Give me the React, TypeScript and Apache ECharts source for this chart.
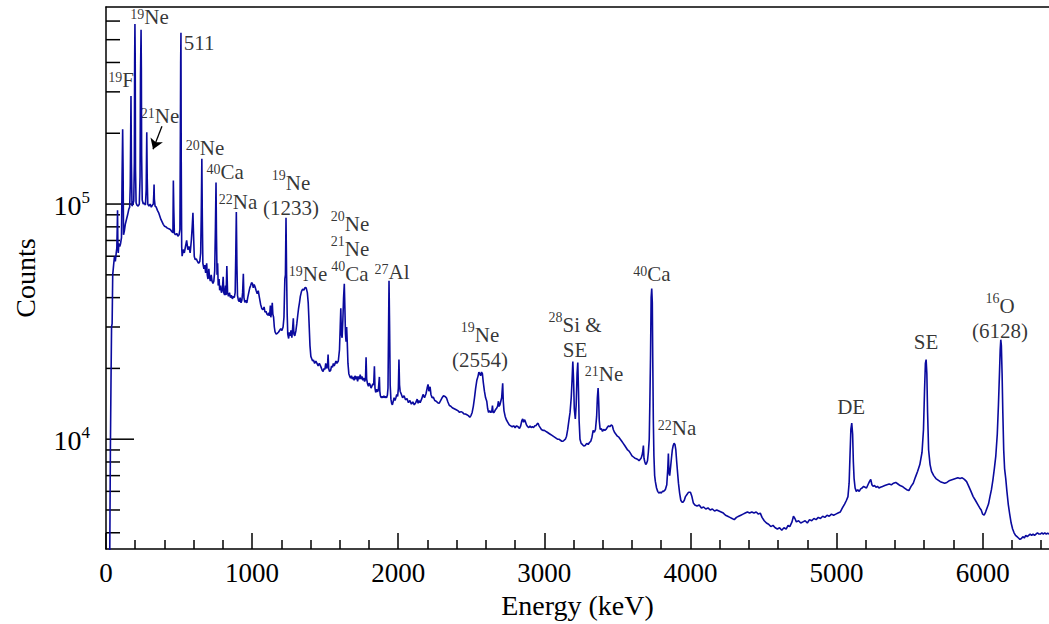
import React, { useEffect, useRef } from "react";
import * as echarts from "echarts";

// Gamma-ray spectrum: [energy (keV), counts]
const spectrumA: [number, number][] = [
  [20, 3000], [26, 3400], [30, 9000], [34, 17000], [38, 30000], [42, 31000], [46, 50000], [52, 55000], [58, 60000], [64, 57000],
  [70, 62000], [74, 65000], [77, 80000], [79, 94000], [81, 70000], [84, 62000], [88, 68000], [94, 66000], [100, 68000], [106, 72000],
  [110, 130000], [114, 208000], [117, 140000], [120, 74000], [126, 77000], [132, 82000], [140, 86000], [148, 90000], [156, 95000], [162, 97000],
  [166, 120000], [169, 200000], [171, 288000], [174, 150000], [178, 98000], [184, 100000], [190, 103000], [194, 150000], [196, 400000], [198, 583000],
  [200, 420000], [202, 140000], [206, 101000], [212, 99000], [220, 98000], [228, 100000], [233, 130000], [236, 350000], [240, 551000], [242, 380000],
  [244, 160000], [248, 104000], [255, 100000], [262, 101000], [270, 99000], [275, 115000], [279, 202000], [282, 130000], [286, 100000], [294, 98000],
  [302, 100000], [310, 97000], [318, 99000], [324, 100000], [327, 110000], [329, 121000], [331, 105000], [336, 98000], [344, 97000], [352, 94000],
  [360, 92000], [368, 89000], [376, 86000], [384, 84000], [392, 82000], [400, 80500], [410, 80000], [420, 79000], [430, 78500], [440, 78000],
  [450, 76500], [458, 75500], [461, 126000], [464, 95000], [468, 75000], [476, 74000], [484, 75000], [492, 73000], [500, 74000], [506, 78000],
  [509, 200000], [511, 400000], [513, 535000], [515, 150000], [518, 66000], [521, 60000], [528, 64000], [536, 62000], [544, 66000], [552, 70000],
  [560, 64000], [568, 66000], [576, 62000], [584, 70000], [590, 80000], [595, 91700], [599, 75000], [604, 60000], [610, 58000], [618, 58500],
  [626, 57000], [634, 56000], [642, 57000], [648, 62000], [652, 90000], [656, 155800], [659, 90000], [663, 56000], [670, 53000], [676, 55000],
  [682, 51000], [689, 56000], [693, 50000], [698, 48000], [704, 53000], [708, 49000], [714, 47000], [720, 50000], [726, 47000], [732, 46000],
  [738, 47000], [744, 52000], [749, 80000], [753, 123600], [756, 75000], [760, 50000], [764, 56000], [768, 45000], [774, 48000], [778, 43000],
  [784, 45000], [790, 42000], [796, 43000], [802, 49000], [806, 42000], [812, 41000], [818, 45000], [822, 41000], [827, 54500], [832, 42000],
  [838, 40500], [845, 42000], [852, 40000], [858, 41000], [865, 39500], [872, 40500], [878, 40000], [884, 42000], [888, 60000], [892, 92600],
  [896, 55000], [900, 40800], [906, 39000], [912, 38500], [918, 40000], [924, 38000], [930, 39000], [935, 42000], [940, 50500], [944, 40000],
  [950, 38200], [957, 39000], [964, 38000], [970, 40000], [977, 42000], [984, 44000], [990, 45000], [996, 46300],
];

const spectrumB: [number, number][] = [
  [1002, 46000], [1008, 44000], [1014, 45500], [1020, 44500], [1028, 42800], [1035, 41500], [1042, 42800], [1050, 40000], [1058, 37500], [1066, 36000],
  [1074, 35500], [1082, 36500], [1088, 34700], [1095, 35000], [1102, 34000], [1109, 33700], [1115, 34500], [1120, 33500], [1125, 37000], [1128, 33000],
  [1134, 35000], [1138, 38000], [1142, 34000], [1147, 33000], [1152, 30000], [1157, 28600], [1165, 28000], [1172, 28200], [1180, 28500], [1188, 29000],
  [1196, 29500], [1204, 29000], [1212, 30000], [1218, 33000], [1224, 48000], [1228, 50000], [1232, 87400], [1236, 50000], [1240, 34000], [1244, 28000],
  [1250, 26800], [1255, 28500], [1260, 27500], [1266, 29000], [1272, 27000], [1278, 30000], [1282, 32700], [1286, 28000], [1292, 27500], [1300, 29000],
  [1306, 31000], [1312, 33500], [1318, 36000], [1324, 38000], [1330, 40500], [1338, 42500], [1346, 43500], [1354, 43000], [1362, 44100], [1370, 44000],
  [1378, 42000], [1384, 38000], [1390, 31000], [1396, 25000], [1402, 22500], [1408, 22000], [1414, 21500], [1420, 21700], [1428, 21000], [1436, 21500],
  [1444, 21000], [1452, 20500], [1460, 21000], [1468, 20500], [1475, 20000], [1480, 19600], [1486, 19400], [1492, 20000], [1498, 19800], [1504, 21000],
  [1510, 20000], [1516, 20500], [1520, 22900], [1524, 20000], [1530, 19400], [1537, 19600], [1544, 20500], [1550, 20200], [1556, 21000], [1562, 20500],
  [1568, 21000], [1574, 21500], [1580, 21000], [1590, 21500], [1598, 24000], [1603, 30000], [1607, 36000], [1611, 28000], [1616, 27000], [1621, 32000],
  [1626, 40000], [1631, 45800], [1635, 36000], [1639, 28000], [1643, 26000], [1647, 30000], [1651, 26000], [1656, 21000], [1662, 19000], [1668, 18500],
  [1674, 18200], [1680, 18600], [1686, 18000], [1692, 18400], [1698, 17800], [1704, 18600], [1710, 18000], [1716, 18500], [1722, 17600], [1728, 18500],
  [1734, 18000], [1740, 18800], [1746, 18000], [1752, 18500], [1758, 17800], [1764, 18200], [1770, 17600], [1776, 18000], [1780, 22300], [1784, 18000],
  [1790, 17200], [1796, 16800], [1802, 17300], [1808, 17000], [1814, 16500], [1820, 16800], [1826, 17200], [1832, 17000], [1837, 20400], [1841, 16500],
  [1846, 15800], [1852, 16300], [1858, 15900], [1864, 16200], [1871, 18400], [1874, 16000], [1878, 15300], [1884, 15000], [1890, 15200], [1896, 15000],
  [1902, 15300], [1908, 15000], [1914, 15200], [1920, 15000], [1926, 15400], [1930, 16500], [1934, 30000], [1937, 47200], [1941, 30000], [1945, 17000],
  [1950, 14800], [1955, 14200], [1960, 14000], [1966, 14500], [1972, 15000], [1978, 14600], [1984, 15000], [1990, 15500], [1996, 15200], [2001, 16500],
  [2005, 21800], [2009, 17000], [2013, 16000], [2020, 15600], [2030, 15000], [2040, 15300], [2050, 14700], [2060, 14900], [2070, 14300], [2080, 14600],
  [2090, 14100], [2100, 14400], [2110, 14000], [2120, 14300], [2130, 14800], [2136, 14200], [2142, 14600], [2150, 14300], [2160, 14800], [2170, 15500],
  [2180, 15000], [2190, 15600], [2198, 16500], [2204, 17100], [2210, 16000], [2218, 16700], [2224, 15500], [2232, 15000], [2240, 15100], [2250, 14600],
  [2260, 14500], [2270, 14300], [2280, 14200], [2290, 14600], [2300, 15000], [2310, 15300], [2320, 15200], [2330, 15000], [2340, 14400], [2350, 13900],
  [2360, 13800], [2370, 13600], [2380, 13500], [2390, 13400], [2400, 13300], [2410, 13200], [2420, 13000], [2430, 13100], [2440, 13000], [2450, 12800],
  [2460, 12800], [2470, 12700], [2480, 12600], [2490, 12400],
];

const spectrumC: [number, number][] = [
  [2498, 12600], [2506, 13000], [2514, 13800], [2522, 15000], [2530, 16500], [2538, 17800], [2546, 18500], [2552, 19300], [2558, 19000], [2564, 18600],
  [2570, 19300], [2576, 19000], [2582, 17500], [2590, 16000], [2598, 15000], [2606, 14500], [2612, 13500], [2618, 13000], [2626, 13200], [2634, 13000],
  [2640, 13100], [2645, 13900], [2649, 13000], [2656, 13000], [2664, 13300], [2672, 13500], [2680, 13800], [2686, 14500], [2690, 13800], [2696, 14000],
  [2702, 14500], [2708, 15000], [2715, 17300], [2719, 14500], [2724, 13200], [2732, 12500], [2740, 12100], [2750, 11800], [2760, 11500], [2770, 11400],
  [2780, 11300], [2790, 11400], [2800, 11200], [2810, 11400], [2820, 11300], [2830, 11100], [2838, 11400], [2846, 12000], [2852, 12200], [2858, 11800],
  [2864, 12100], [2870, 11900], [2878, 11500], [2886, 11300], [2894, 11200], [2902, 11400], [2910, 11200], [2918, 11300], [2926, 11200], [2934, 11400],
  [2942, 11400], [2950, 11600], [2957, 11700], [2964, 11400], [2972, 11200], [2980, 11000], [2990, 10900], [3000, 10900], [3010, 10800], [3020, 10700],
  [3030, 10600], [3040, 10500], [3050, 10400], [3060, 10300], [3070, 10200], [3080, 10100], [3090, 10000], [3100, 10000], [3110, 9900], [3120, 9800],
  [3128, 9800], [3136, 9900], [3144, 10000], [3152, 10300], [3160, 11000], [3168, 12000], [3176, 13000], [3184, 15000], [3190, 18000], [3195, 21400],
  [3200, 18000], [3205, 13500], [3212, 12200], [3218, 14000], [3224, 19000], [3229, 21200], [3234, 16000], [3238, 12000], [3244, 10000], [3252, 9600],
  [3260, 9500], [3270, 9350], [3280, 9400], [3290, 9600], [3300, 9500], [3310, 9700], [3318, 9800], [3326, 10200], [3334, 10900], [3342, 10700],
  [3350, 11000], [3358, 12500], [3363, 15000], [3368, 16500], [3372, 14500], [3376, 12000], [3382, 11000], [3390, 11100], [3398, 10800], [3406, 11000],
  [3414, 10900], [3422, 11000], [3430, 11200], [3440, 11400], [3448, 11300], [3458, 11500], [3466, 11400], [3472, 11000], [3480, 10700], [3490, 10500],
  [3500, 10300], [3510, 10200], [3520, 10000], [3530, 9800], [3540, 9600], [3550, 9400], [3560, 9200], [3570, 9000], [3580, 8900], [3590, 8700],
  [3600, 8500], [3610, 8400], [3620, 8300], [3630, 8250], [3640, 8200], [3648, 8100], [3655, 8200], [3662, 8300], [3668, 8500], [3673, 8800],
  [3678, 9400], [3682, 8300], [3688, 8000], [3694, 7800], [3700, 7900], [3706, 8100], [3712, 8800], [3718, 10000], [3722, 14000], [3727, 22900],
  [3731, 40000], [3735, 43700], [3739, 38000], [3742, 22000], [3746, 12000], [3750, 8500], [3755, 7000], [3760, 6600], [3768, 6200], [3776, 6000],
  [3784, 5900], [3792, 5950], [3800, 5900], [3808, 6000], [3816, 6000], [3828, 6100], [3838, 6400], [3845, 7500], [3849, 8700], [3853, 7200],
  [3858, 7000], [3864, 7600], [3870, 8300], [3876, 9000], [3882, 9400], [3888, 9600], [3894, 9500], [3900, 9000], [3906, 8000], [3912, 7200],
  [3918, 6500], [3926, 5900], [3934, 5500], [3942, 5400], [3950, 5400], [3958, 5500], [3966, 5700], [3975, 5800], [3982, 5900], [3990, 5950],
];

const spectrumD: [number, number][] = [
  [4000, 5950], [4010, 5700], [4020, 5350], [4030, 5250], [4045, 5200], [4060, 5250], [4075, 5100], [4090, 5150], [4105, 5050], [4120, 5100],
  [4135, 5000], [4150, 5050], [4165, 4950], [4180, 5000], [4195, 4950], [4210, 4900], [4225, 4850], [4240, 4750], [4255, 4700], [4270, 4650],
  [4285, 4600], [4300, 4550], [4315, 4650], [4330, 4700], [4345, 4750], [4360, 4800], [4375, 4850], [4390, 4900], [4405, 4850], [4420, 4900],
  [4435, 4850], [4450, 4900], [4465, 4800], [4478, 4850], [4490, 4650], [4505, 4500], [4520, 4400], [4535, 4350], [4550, 4250], [4565, 4300],
  [4580, 4200], [4595, 4150], [4610, 4200], [4625, 4100], [4640, 4200], [4655, 4150], [4668, 4300], [4680, 4250], [4695, 4450], [4705, 4700],
  [4715, 4600], [4725, 4450], [4740, 4500], [4755, 4400], [4770, 4450], [4785, 4500], [4800, 4400], [4815, 4550], [4830, 4500], [4845, 4600],
  [4860, 4550], [4875, 4650], [4890, 4600], [4905, 4700], [4920, 4650], [4935, 4750], [4950, 4700], [4965, 4800], [4980, 4750], [4995, 4800],
  [5010, 4850], [5025, 4900], [5040, 5100], [5055, 5300], [5068, 5500], [5078, 5700], [5086, 6500], [5092, 8500], [5098, 11000], [5104, 11700],
  [5110, 10500], [5115, 8000], [5120, 6800], [5127, 6200], [5135, 6000], [5145, 6100], [5155, 6000], [5165, 6150], [5175, 6200], [5185, 6300],
  [5195, 6250], [5205, 6200], [5215, 6400], [5225, 6600], [5234, 6750], [5242, 6400], [5250, 6300], [5260, 6350], [5270, 6250], [5280, 6300],
  [5290, 6200], [5300, 6250], [5315, 6300], [5330, 6350], [5345, 6400], [5360, 6450], [5375, 6400], [5390, 6500], [5405, 6550], [5420, 6450],
  [5435, 6350], [5450, 6300], [5465, 6200], [5480, 6100], [5495, 6050], [5510, 6300], [5525, 6500], [5540, 6900], [5555, 7300], [5570, 7800],
  [5585, 8800], [5595, 11000], [5602, 16000], [5608, 21000], [5613, 21800], [5618, 19000], [5623, 13000], [5630, 9000], [5640, 7800], [5650, 7300],
  [5665, 7000], [5680, 6800], [5695, 6700], [5710, 6600], [5725, 6550], [5740, 6500], [5755, 6550], [5770, 6650], [5785, 6700], [5800, 6750],
  [5815, 6800], [5830, 6850], [5845, 6800], [5860, 6850], [5875, 6750], [5890, 6600], [5905, 6300], [5920, 6000], [5935, 5700], [5950, 5500],
  [5965, 5300], [5980, 5100], [5990, 5000], [6000, 4800], [6010, 4750], [6020, 4900], [6030, 5100], [6040, 5300], [6050, 5700], [6060, 6100],
  [6070, 6700], [6080, 7500], [6090, 8500], [6100, 10500], [6108, 14000], [6115, 19000], [6120, 24000], [6124, 26500], [6128, 25000], [6133, 19000],
  [6138, 13000], [6144, 9000], [6150, 7500], [6158, 6800], [6166, 6000], [6175, 5300], [6185, 4800], [6195, 4400], [6205, 4150], [6215, 4000],
  [6225, 3900], [6235, 3850], [6245, 3800], [6255, 3750], [6265, 3780], [6275, 3850], [6285, 3800], [6295, 3900], [6305, 3850], [6315, 3900],
  [6325, 3950], [6335, 3900], [6345, 3950], [6355, 3900], [6365, 3950], [6375, 4000], [6385, 3950], [6395, 3950], [6405, 4000], [6415, 3950],
  [6425, 4000], [6435, 3950], [6445, 3980], [6455, 3950],
];

// Peak annotations: rich-text label, anchor energy (keV), anchor counts
// (s/n: single-line label styles, t/m: multi-line label styles)
const annotations = [
  { label: "{t|19}{n|Ne}", energy: 298, counts: 621000 },
  { label: "{n|511}", energy: 637, counts: 481000 },
  { label: "{t|19}{n|F}", energy: 103, counts: 334000 },
  { label: "{t|21}{n|Ne}", energy: 370, counts: 236000 },
  { label: "{t|20}{n|Ne}", energy: 678, counts: 173000 },
  { label: "{t|40}{n|Ca}", energy: 815, counts: 136000 },
  { label: "{t|22}{n|Na}", energy: 904, counts: 102000 },
  { label: "{s|19}{m|Ne}\n{m|(1233)}", energy: 1266, counts: 111000 },
  { label: "{t|19}{n|Ne}", energy: 1383, counts: 50000 },
  { label: "{s|20}{m|Ne}\n{s|21}{m|Ne}\n{s|40}{m|Ca}", energy: 1670, counts: 65500 },
  { label: "{t|27}{n|Al}", energy: 1958, counts: 51400 },
  { label: "{s|19}{m|Ne}\n{m|(2554)}", energy: 2560, counts: 25000 },
  { label: "{s|28}{m|Si &}\n{m|SE}", energy: 3210, counts: 27500 },
  { label: "{t|21}{n|Ne}", energy: 3409, counts: 18900 },
  { label: "{t|40}{n|Ca}", energy: 3737, counts: 50000 },
  { label: "{t|22}{n|Na}", energy: 3908, counts: 11100 },
  { label: "{n|DE}", energy: 5100, counts: 13600 },
  { label: "{n|SE}", energy: 5613, counts: 25700 },
  { label: "{s|16}{m|O}\n{m|(6128)}", energy: 6119, counts: 33300 },
];

const arrowFrom: [number, number] = [383, 214000];
const arrowTo: [number, number] = [322, 171000];

const xTickValues = [0, 1000, 2000, 3000, 4000, 5000, 6000];
const yMajorTicks = [10000, 100000];
const yMinorTicks = [4000, 5000, 6000, 7000, 8000, 9000, 20000, 30000, 40000, 50000, 60000, 70000, 80000, 90000,
  200000, 300000, 400000, 500000, 600000];

const X_MIN = 0;
const X_MAX = 6454;
const Y_MIN = 3409;
const Y_MAX = 688600;

const FONT = "Liberation Serif, Times New Roman, DejaVu Serif, serif";
const LINE_BLUE = "#0a0a9e";

export default function App() {
  const ref = useRef<HTMLDivElement>(null);

  useEffect(() => {
    if (!ref.current) return;
    const chart = echarts.init(ref.current, undefined, { renderer: "svg" });
    const spectrum = [...spectrumA, ...spectrumB, ...spectrumC, ...spectrumD];
    const tickData = [
      ...yMajorTicks.map((v) => [0, v, 1]),
      ...yMinorTicks.map((v) => [0, v, 0]),
    ];
    const axisLine = { show: true, lineStyle: { color: "#000", width: 1.5 } };

    chart.setOption({
      animation: false,
      backgroundColor: "#fff",
      grid: { left: 106, top: 7, width: 943, height: 550, containLabel: false },
      xAxis: [
        {
          type: "value",
          min: X_MIN,
          max: X_MAX,
          interval: 1000,
          position: "bottom",
          name: "Energy (keV)",
          nameLocation: "middle",
          nameGap: 36,
          nameTextStyle: { fontFamily: FONT, fontSize: 28, color: "#000" },
          axisLine,
          axisTick: { show: true, inside: true, length: 16, customValues: xTickValues, lineStyle: { color: "#000", width: 1.5 } },
          minorTick: { show: true, splitNumber: 5, length: 9, lineStyle: { color: "#000", width: 1.5 } },
          axisLabel: {
            show: true,
            customValues: xTickValues,
            margin: 10,
            fontFamily: FONT,
            fontSize: 27,
            color: "#000",
            formatter: (v: number) => String(Math.round(v)),
          },
          splitLine: { show: false },
        },
        {
          type: "value",
          min: X_MIN,
          max: X_MAX,
          position: "top",
          axisLine,
          axisTick: { show: false },
          axisLabel: { show: false },
          splitLine: { show: false },
        },
      ],
      yAxis: {
        type: "log",
        logBase: 10,
        min: Y_MIN,
        max: Y_MAX,
        name: "Counts",
        nameLocation: "middle",
        nameRotate: 90,
        nameGap: 67,
        nameTextStyle: { fontFamily: FONT, fontSize: 28, color: "#000" },
        axisLine,
        axisTick: { show: false },
        splitLine: { show: false },
        minorTick: { show: false },
        axisLabel: {
          show: true,
          margin: 16,
          formatter: (v: number) => {
            const e = Math.round(Math.log10(v));
            if (Math.abs(v - Math.pow(10, e)) > 1e-6 * v) return "";
            return `{b|10}{e|${e}}`;
          },
          rich: {
            b: { fontFamily: FONT, fontSize: 28, color: "#000", lineHeight: 30, verticalAlign: "bottom" },
            e: { fontFamily: FONT, fontSize: 17, color: "#000", lineHeight: 17, verticalAlign: "top" },
          },
        },
      },
      series: [
        {
          type: "line",
          data: spectrum,
          xAxisIndex: 0,
          showSymbol: false,
          symbol: "none",
          silent: true,
          clip: true,
          lineStyle: { color: LINE_BLUE, width: 1.6 },
        },
        {
          type: "custom",
          xAxisIndex: 0,
          silent: true,
          data: tickData,
          renderItem: (_params: any, api: any) => {
            const p = api.coord([api.value(0), api.value(1)]);
            const len = api.value(2) ? 28 : 14;
            return {
              type: "line",
              shape: { x1: p[0], y1: p[1], x2: p[0] + len, y2: p[1] },
              style: { stroke: "#000", lineWidth: 1.5 },
            };
          },
        },
        {
          type: "scatter",
          xAxisIndex: 0,
          silent: true,
          symbolSize: 1,
          itemStyle: { color: "rgba(0,0,0,0)" },
          data: annotations.map((a) => [a.energy, a.counts]),
          label: {
            show: true,
            position: "inside",
            align: "center",
            verticalAlign: "middle",
            color: "#000",
            formatter: (p: any) => annotations[p.dataIndex].label,
            rich: {
              s: { fontFamily: FONT, fontSize: 14, color: "#000", lineHeight: 16, verticalAlign: "top" },
              m: { fontFamily: FONT, fontSize: 21, color: "#000", lineHeight: 25, verticalAlign: "bottom" },
              t: { fontFamily: FONT, fontSize: 14, color: "#000", lineHeight: 13, verticalAlign: "top" },
              n: { fontFamily: FONT, fontSize: 21, color: "#000", lineHeight: 20, verticalAlign: "bottom" },
            },
          },
          markLine: {
            silent: true,
            symbol: ["none", "arrow"],
            symbolSize: 10,
            label: { show: false },
            lineStyle: { color: "#000", width: 1.3, type: "solid" },
            data: [[{ coord: arrowFrom }, { coord: arrowTo }]],
          },
        },
      ],
    });
    return () => chart.dispose();
  }, []);

  return (
    <div
      ref={ref}
      style={{ position: "fixed", left: 0, top: 0, width: "1049px", height: "624px", background: "#fff" }}
    />
  );
}
